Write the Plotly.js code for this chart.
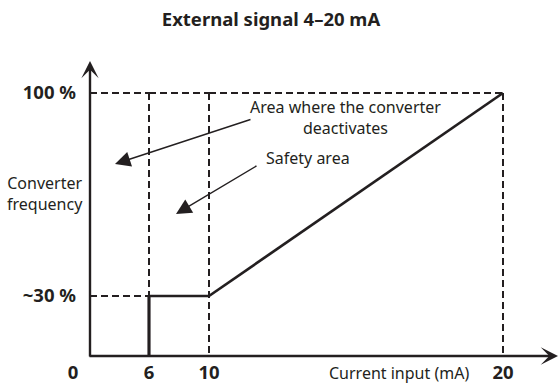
<!DOCTYPE html>
<html>
<head>
<meta charset="utf-8">
<script src="https://cdn.plot.ly/plotly-3.0.1.min.js"></script>
<style>html,body{margin:0;padding:0;background:#fff;}#chart{width:559px;height:383px;}</style>
</head>
<body>
<div id="chart"></div>
<script>
// ---- data ----
const currentBreaks = [0, 6, 10, 20];          // mA, tick values
const currentLabels = ['0', '6', '10', '20'];  // x tick labels
const freqLevels = [30, 100];                   // %
const freqLabels = ['~30 %', '100 %'];          // y tick labels
const curveCurrent = [6, 6, 10, 20];            // characteristic curve (mA)
const curveFreq = [0, 30, 30, 100];             // characteristic curve (%)
const hGuideFreq = [100, 30];
const hGuideFrom = [0, 0];
const hGuideTo = [20, 6];
const vGuideCurrent = [6, 10, 20];
const vGuideFrom = [30, 0, 0];
const vGuideTo = [100, 100, 100];

// ---- layout geometry (schematic, piecewise-linear current axis) ----
const W = 559, H = 383;
const INK = '#231f20';
const FONT = 'Noto Sans, Open Sans, sans-serif';
const segPx = [[90, 149], [149, 209], [209, 503]];
const segPadL = [0, 3, 3];
const segPadR = [3, 3, 55];
const axNames = ['x', 'x2', 'x3'];
const segs = [];
for (let i = 0; i < currentBreaks.length - 1; i++) {
  const lo = currentBreaks[i], hi = currentBreaks[i + 1];
  const k = (segPx[i][1] - segPx[i][0]) / (hi - lo);
  segs.push({
    name: axNames[i], lo: lo, hi: hi,
    range: [lo - segPadL[i] / k, hi + segPadR[i] / k],
    domain: [(segPx[i][0] - segPadL[i]) / W, (segPx[i][1] + segPadR[i]) / W]
  });
}
// y: 30 -> 296px, 100 -> 93px; plot from 356px (bottom) to 62px (top)
const yk = (296 - 93) / (freqLevels[1] - freqLevels[0]);
const yRange = [freqLevels[0] - (356 - 296) / yk, freqLevels[1] + (93 - 62) / yk];

const traces = [];
const solid = {color: INK, width: 2.7};
const dashed = {color: INK, width: 2, dash: '7px,4px'};
// curve pieces, assigned to the segment axis that contains them
for (let i = 0; i < curveCurrent.length - 1; i++) {
  const a = Math.min(curveCurrent[i], curveCurrent[i + 1]);
  const b = Math.max(curveCurrent[i], curveCurrent[i + 1]);
  segs.forEach(s => {
    if (a >= s.lo && b <= s.hi) {
      traces.push({x: [curveCurrent[i], curveCurrent[i + 1]], y: [curveFreq[i], curveFreq[i + 1]],
        xaxis: s.name, yaxis: 'y', mode: 'lines', line: solid, hoverinfo: 'skip', showlegend: false});
    }
  });
}
// horizontal guides
hGuideFreq.forEach((f, j) => {
  segs.forEach(s => {
    const x0 = Math.max(hGuideFrom[j], s.lo), x1 = Math.min(hGuideTo[j], s.hi);
    if (x1 > x0) traces.push({x: [x0, x1], y: [f, f], xaxis: s.name, yaxis: 'y', mode: 'lines',
      line: dashed, hoverinfo: 'skip', showlegend: false});
  });
});
// vertical guides
vGuideCurrent.forEach((c, j) => {
  segs.forEach(s => {
    if (c >= s.lo && c <= s.hi) traces.push({x: [c, c], y: [vGuideTo[j], vGuideFrom[j]], xaxis: s.name, yaxis: 'y',
      mode: 'lines', line: dashed, hoverinfo: 'skip', showlegend: false});
  });
});

const tickFont = {family: FONT, size: 18.5, color: INK, weight: 'bold'};
const layout = {
  width: W, height: H,
  margin: {l: 0, r: 0, t: 0, b: 0, pad: 0},
  paper_bgcolor: '#fff', plot_bgcolor: 'rgba(0,0,0,0)',
  showlegend: false,
  font: {family: FONT, color: INK},
  title: {text: '<b>External signal 4–20 mA</b>', font: {family: FONT, size: 18.5, color: INK},
    x: 271 / W, xanchor: 'center', xref: 'paper', y: 1 - 20 / H, yanchor: 'middle', yref: 'container'},
  yaxis: {range: yRange, domain: [(H - 356) / H, (H - 62) / H], anchor: 'x',
    showgrid: false, zeroline: false, showline: false, ticks: '',
    tickvals: freqLevels, ticktext: freqLabels, tickfont: tickFont, ticklabelstandoff: 13, fixedrange: true},
  annotations: [],
  shapes: []
};
segs.forEach((s, i) => {
  const key = i === 0 ? 'xaxis' : 'xaxis' + (i + 1);
  const tv = [], tt = [];
  currentBreaks.forEach((v, j) => {
    const own = (i === 0) ? (v >= s.lo && v < s.hi) : (v > s.lo && v <= s.hi) || (i === 1 && v === s.lo);
    if (own) { tv.push(v); tt.push(currentLabels[j]); }
  });
  layout[key] = {range: s.range, domain: s.domain, anchor: 'y', showgrid: false, zeroline: false,
    showline: false, ticks: '', tickvals: tv, ticktext: tt, tickfont: tickFont,
    ticklabelstandoff: 3, ticklabelshift: i === 0 ? -17 : 0, fixedrange: true};
});

const px = v => v / W, py = v => 1 - v / H;
// axis arrows
layout.annotations.push({xref: 'paper', yref: 'paper', x: px(90), y: py(61), ax: 0, ay: 297,
  axref: 'pixel', ayref: 'pixel', text: '', showarrow: true, arrowhead: 3, arrowsize: 1.2, arrowwidth: 2.4, arrowcolor: INK});
layout.annotations.push({xref: 'paper', yref: 'paper', x: px(558), y: py(356), ax: -470, ay: 0,
  axref: 'pixel', ayref: 'pixel', text: '', showarrow: true, arrowhead: 3, arrowsize: 1.2, arrowwidth: 2.4, arrowcolor: INK});
// callout arrows
layout.annotations.push({xref: 'paper', yref: 'paper', x: px(115), y: py(164), ax: 137, ay: -45,
  text: '', showarrow: true, arrowhead: 2, arrowsize: 2.2, arrowwidth: 1.4, arrowcolor: INK});
layout.annotations.push({xref: 'paper', yref: 'paper', x: px(176), y: py(214), ax: 82, ay: -49,
  text: '', showarrow: true, arrowhead: 2, arrowsize: 2.2, arrowwidth: 1.4, arrowcolor: INK});
// texts
const txt = (t, x, y, size) => ({xref: 'paper', yref: 'paper', x: px(x), y: py(y), text: t, showarrow: false,
  xanchor: 'center', yanchor: 'middle', align: 'center', font: {family: FONT, size: size, color: INK}});
layout.annotations.push(txt('Area where the converter<br>deactivates', 346, 117, 16));
layout.annotations.push(txt('Safety area', 308, 158, 16));
layout.annotations.push(txt('Converter<br>frequency', 45, 193, 16));
layout.annotations.push(txt('Current input (mA)', 399, 373, 16));

Plotly.newPlot('chart', traces, layout, {displayModeBar: false, staticPlot: true});
</script>
</body>
</html>
